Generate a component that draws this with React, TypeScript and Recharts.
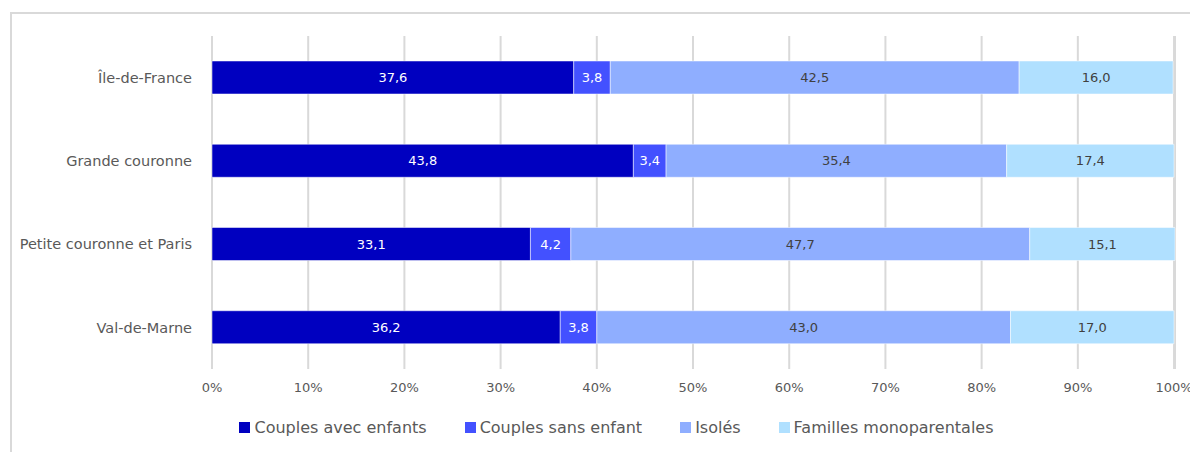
import { BarChart, Bar, XAxis, YAxis, CartesianGrid, LabelList, Legend } from "recharts";

const regions = ["Île-de-France", "Grande couronne", "Petite couronne et Paris", "Val-de-Marne"];
const couplesAvec = [37.6, 43.8, 33.1, 36.2];
const couplesSans = [3.8, 3.4, 4.2, 3.8];
const isoles = [42.5, 35.4, 47.7, 43.0];
const monoparentales = [16.0, 17.4, 15.1, 17.0];
const xTicks = [0, 10, 20, 30, 40, 50, 60, 70, 80, 90, 100];

const series = [
  { key: "avec", name: "Couples avec enfants", color: "#0000C0", label: "#ffffff" },
  { key: "sans", name: "Couples sans enfant", color: "#4351FF", label: "#ffffff" },
  { key: "isoles", name: "Isolés", color: "#8FAEFF", label: "#404040" },
  { key: "mono", name: "Familles monoparentales", color: "#B0E0FF", label: "#404040" },
];

const data = regions.map((r, i) => ({
  region: r,
  avec: couplesAvec[i],
  sans: couplesSans[i],
  isoles: isoles[i],
  mono: monoparentales[i],
}));

const FONT = "'DejaVu Sans', sans-serif";
const fmt = (v: number) => v.toFixed(1).replace(".", ",");

function LegendContent() {
  return (
    <div style={{ display: "flex", justifyContent: "center", gap: 38, fontFamily: FONT, fontSize: 16, color: "#595959", paddingLeft: 46 }}>
      {series.map((s) => (
        <div key={s.key} style={{ display: "flex", alignItems: "center" }}>
          <span style={{ display: "inline-block", width: 11, height: 11, background: s.color, marginRight: 4 }} />
          <span>{s.name}</span>
        </div>
      ))}
    </div>
  );
}

export default function App() {
  return (
    <div style={{ position: "relative", width: 1190, height: 444, overflow: "hidden" }}>
      <div
        style={{
          position: "absolute",
          left: 2,
          top: 4,
          width: 1300,
          height: 600,
          border: "2px solid #d9d9d9",
          boxSizing: "border-box",
        }}
      />
      <div style={{ position: "absolute", left: 0, top: 0 }}>
        <BarChart
          width={1190}
          height={444}
          data={data}
          layout="vertical"
          barSize={33}
          margin={{ top: 28, right: 23, left: 4, bottom: 15 }}
        >
          <CartesianGrid horizontal={false} stroke="#d9d9d9" strokeWidth={2} />
          <XAxis
            type="number"
            domain={[0, 100]}
            ticks={xTicks}
            tickFormatter={(v: number) => `${v}%`}
            axisLine={false}
            tickLine={false}
            height={49}
            tickMargin={8}
            tick={{ fontSize: 13, fill: "#595959", fontFamily: FONT }}
          />
          <YAxis
            type="category"
            dataKey="region"
            width={200}
            axisLine={false}
            tickLine={false}
            tickMargin={14}
            tick={{ fontSize: 14.5, fill: "#595959", fontFamily: FONT }}
          />
          <Legend verticalAlign="bottom" content={<LegendContent />} />
          {series.map((s) => (
            <Bar key={s.key} dataKey={s.key} name={s.name} stackId="a" fill={s.color} stroke="#ffffff" strokeWidth={0.5} isAnimationActive={false}>
              <LabelList
                dataKey={s.key}
                position="center"
                formatter={(v: number) => fmt(v)}
                style={{ fontSize: 13, fill: s.label, fontFamily: FONT }}
              />
            </Bar>
          ))}
        </BarChart>
      </div>
    </div>
  );
}
